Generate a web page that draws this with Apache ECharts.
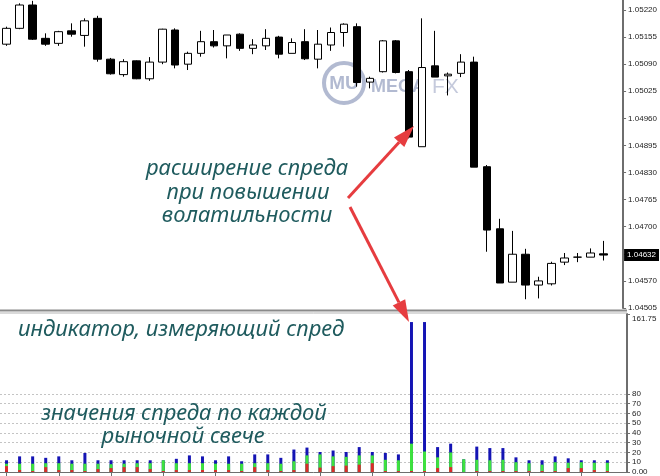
<!DOCTYPE html>
<html><head><meta charset="utf-8">
<script src="https://cdn.jsdelivr.net/npm/echarts@6/dist/echarts.min.js"></script>
<style>html,body{margin:0;padding:0;background:#fff}#c{width:660px;height:476px}</style>
</head><body><div id="c"></div>
<script>
// ---- data ----
const categories = ['1','2','3','4','5','6','7','8','9','10','11','12','13','14','15','16','17','18','19','20',
  '21','22','23','24','25','26','27','28','29','30','31','32','33','34','35','36','37','38','39','40',
  '41','42','43','44','45','46','47',''];
const opens = [1.05138,1.05176,1.05232,1.05152,1.05140,1.05170,1.05159,1.05200,1.05102,1.05065,
  1.05098,1.05055,1.05095,1.05172,1.05090,1.05116,1.05144,1.05134,1.05162,1.05128,
  1.05134,1.05155,1.05116,1.05144,1.05102,1.05136,1.05166,1.05180,1.05047,1.05072,
  1.05146,1.05072,1.04892,1.05086,1.05062,1.05068,1.05095,1.04844,1.04695,1.04567,
  1.04634,1.04560,1.04563,1.04615,1.04627,1.04627,1.04635];
const closes = [1.05176,1.05232,1.05150,1.05138,1.05168,1.05162,1.05194,1.05102,1.05067,1.05096,
  1.05055,1.05095,1.05174,1.05088,1.05116,1.05144,1.05134,1.05160,1.05128,1.05136,
  1.05152,1.05114,1.05142,1.05103,1.05138,1.05166,1.05186,1.05046,1.05056,1.05146,
  1.05070,1.04915,1.05082,1.05059,1.05066,1.05095,1.04843,1.04692,1.04565,1.04634,
  1.04560,1.04570,1.04612,1.04625,1.04627,1.04637,1.04632];
const lows = [1.05134,1.05174,1.05148,1.05134,1.05134,1.05156,1.05132,1.05096,1.05065,1.05060,
  1.05054,1.05050,1.05090,1.05080,1.05076,1.05108,1.05130,1.05104,1.05122,1.05114,
  1.05124,1.05104,1.05116,1.05100,1.05080,1.05122,1.05132,1.05036,1.05032,1.05070,
  1.05068,1.04912,1.04892,1.05059,1.05015,1.05059,1.04843,1.04640,1.04565,1.04567,
  1.04526,1.04528,1.04559,1.04608,1.04615,1.04627,1.04619];
const highs = [1.05180,1.05236,1.05242,1.05164,1.05170,1.05188,1.05200,1.05206,1.05105,1.05102,
  1.05099,1.05107,1.05175,1.05176,1.05120,1.05170,1.05172,1.05160,1.05164,1.05150,
  1.05174,1.05158,1.05152,1.05174,1.05172,1.05178,1.05188,1.05188,1.05060,1.05148,
  1.05148,1.05076,1.05200,1.05170,1.05070,1.05114,1.05108,1.04848,1.04719,1.04690,
  1.04647,1.04580,1.04616,1.04637,1.04637,1.04648,1.04666];
const spreadMax = [12,16,16,14.5,16,12,19.5,12,12,12, 12,12,12,13.5,17,16,12,16,11,18,
  18,14.5,23,25,20.5,22,20.5,25.5,20.5,19.5, 18,153.5,153.5,25.5,29,13,26,24.5,24.5,15,
  12,12,16,14,12,12,12];
const spreadAvg = [8.5,8.5,8.5,9,9,8.5,8.5,8.5,8,8.5, 9,9,12,9,9,9,8.5,8.5,8.5,9,
  9,8.5,11,17,18,16,15.5,17,17,12.5, 12,29,21,15,20,13,12.5,12,12.5,10,
  9,7.5,10,9.5,10,9.5,9.5];
const spreadMin = [6,2,1,5,2,2,1,3,4,5, 5,3,1,2,2,2,2,2,1,5,
  2,1,2,8.5,4.5,6,6.5,7.5,9,1, 1,1,1,4,5,0,1,1,1,1,
  1,1,1,4,4,2,1];
const lastPrice = 1.04632;
const priceMin = 1.04505, priceMax = 1.05244, priceStep = 0.00065;
const spreadTop = 161.75;
const spreadTicks = [0,10,20,30,40,50,60,70,80,161.75];
const spreadGridLevels = [10,20,30,40,50,60,70,80];

// ---- chart ----
const candles = opens.map((o, i) => [o, closes[i], lows[i], highs[i]]);
const chart = echarts.init(document.getElementById('c'), null, {renderer: 'canvas'});
const axisGray = '#6e6e6e';
const lblStyle = {color: '#222', fontSize: 8, fontFamily: 'Liberation Sans'};
const teal = '#1f5b5e';
const noteFont = {fontFamily: 'Noto Sans', fontStyle: 'italic', fontSize: 22};

function note(text, x, y, align) {
  return {type: 'text', z: 50, style: Object.assign({text, x, y, fill: teal,
    align: align || 'center', textAlign: align || 'center', verticalAlign: 'middle', textVerticalAlign: 'middle'}, noteFont)};
}
function arrow(x1, y1, x2, y2) {
  const dx = x2 - x1, dy = y2 - y1, L = Math.hypot(dx, dy), ux = dx / L, uy = dy / L;
  const hl = 22, hw = 7;
  const bx = x2 - ux * hl, by = y2 - uy * hl;
  return [
    {type: 'line', z: 60, shape: {x1, y1, x2: bx, y2: by}, style: {stroke: '#e63c3f', lineWidth: 3}},
    {type: 'polygon', z: 60, shape: {points: [[x2, y2], [bx - uy * hw, by + ux * hw], [bx + uy * hw, by - ux * hw]]},
      style: {fill: '#e63c3f'}}
  ];
}

const wm = 'rgba(115,130,172,0.55)';
const option = {
  animation: false,
  backgroundColor: '#fff',
  grid: [
    {left: 0, top: 0, width: 627, height: 308},
    {left: 0, top: 314, width: 627, height: 158}
  ],
  xAxis: [
    {type: 'category', gridIndex: 0, data: categories, boundaryGap: true,
      axisLine: {show: false}, axisTick: {show: false}, axisLabel: {show: false}, splitLine: {show: false}},
    {type: 'category', gridIndex: 1, data: categories, boundaryGap: true,
      axisLine: {show: true, lineStyle: {color: axisGray, width: 1}},
      axisTick: {show: true, interval: 3, alignWithLabel: true, length: 4, lineStyle: {color: axisGray}},
      axisLabel: {show: false}, splitLine: {show: false}}
  ],
  yAxis: [
    {type: 'value', gridIndex: 0, position: 'right', min: priceMin, max: priceMax, interval: priceStep,
      splitLine: {show: false},
      axisLine: {show: true, lineStyle: {color: axisGray, width: 2}},
      axisTick: {show: true, length: 3, lineStyle: {color: axisGray}},
      axisLabel: Object.assign({margin: 5, showMaxLabel: false, showMinLabel: true,
        formatter: v => Math.abs(v - priceMax) < 1e-7 ? '' : v.toFixed(5)}, lblStyle)},
    {type: 'value', gridIndex: 1, position: 'right', min: 0, max: spreadTop,
      splitLine: {show: false},
      axisLine: {show: true, lineStyle: {color: axisGray, width: 2}},
      axisTick: {show: true, length: 3, customValues: spreadTicks, lineStyle: {color: axisGray}},
      axisLabel: Object.assign({margin: 5, customValues: spreadTicks,
        formatter: v => v === 0 ? '0.00' : (v === spreadTop ? '{m|161.75}' : String(v)),
        rich: {m: {fontSize: 8, fontFamily: 'Liberation Sans', color: '#222', padding: [10, 0, 0, 0]}}}, lblStyle)}
  ],
  series: [
    {type: 'candlestick', xAxisIndex: 0, yAxisIndex: 0, data: candles, barWidth: 8,
      itemStyle: {color: '#ffffff', color0: '#000000', borderColor: '#000000', borderColor0: '#000000', borderWidth: 1}
    },
    {type: 'line', name: 'bid', xAxisIndex: 0, yAxisIndex: 0, data: [], showSymbol: false,
      markLine: {silent: true, symbol: 'none', animation: false, z: 10, precision: 5,
        lineStyle: {width: 1, color: 'rgba(0,0,0,0)', type: 'solid'},
        label: {show: true, position: 'end', distance: 1, formatter: lastPrice.toFixed(5),
          color: '#ffffff', backgroundColor: '#000000', padding: [2, 3, 2, 3], fontSize: 8, fontFamily: 'Liberation Sans'},
        emphasis: {disabled: true},
        data: [{yAxis: lastPrice}]}
    },
    {type: 'bar', name: 'max', xAxisIndex: 1, yAxisIndex: 1, data: spreadMax, barWidth: 3, barGap: '-100%',
      itemStyle: {color: '#1414b4'},
      markLine: {silent: true, z: 1, symbol: 'none', animation: false, label: {show: false},
        lineStyle: {type: [2, 2], color: '#c4c4c4', width: 1},
        data: spreadGridLevels.map(v => ({yAxis: v}))}
    },
    {type: 'bar', name: 'avg', xAxisIndex: 1, yAxisIndex: 1, data: spreadAvg, barWidth: 3, barGap: '-100%',
      itemStyle: {color: '#3ee23e'}},
    {type: 'bar', name: 'min', xAxisIndex: 1, yAxisIndex: 1, data: spreadMin, barWidth: 3, barGap: '-100%',
      itemStyle: {color: '#dc2a2a'}}
  ],
  graphic: [
    // separator between panels
    {type: 'line', z: 40, shape: {x1: 0, y1: 310.5, x2: 627, y2: 310.5}, style: {stroke: '#8a8a8a', lineWidth: 2}},
    {type: 'line', z: 40, shape: {x1: 0, y1: 313, x2: 627, y2: 313}, style: {stroke: '#b5b5b5', lineWidth: 1}},
    // watermark
    {type: 'circle', z: 0, shape: {cx: 344, cy: 83, r: 20}, style: {fill: 'none', stroke: wm, lineWidth: 4}},
    {type: 'text', z: 0, style: {text: 'MU', x: 344, y: 84, fill: wm, align: 'center', textAlign: 'center',
      verticalAlign: 'middle', textVerticalAlign: 'middle', fontSize: 19, fontWeight: 'bold', fontFamily: 'Liberation Sans'}},
    {type: 'text', z: 0, style: {text: 'MEGA', x: 371, y: 87, fill: wm, align: 'left', textAlign: 'left',
      verticalAlign: 'middle', textVerticalAlign: 'middle', fontSize: 18, fontWeight: 'bold', fontFamily: 'Liberation Sans'}},
    {type: 'text', z: 0, style: {text: 'FX', x: 432, y: 87, fill: 'rgba(140,150,185,0.5)', align: 'left', textAlign: 'left',
      verticalAlign: 'middle', textVerticalAlign: 'middle', fontSize: 21, fontFamily: 'Liberation Sans'}},
    // notes
    note('расширение спреда', 247, 169),
    note('при повышении', 248, 193),
    note('волатильности', 247, 216),
    note('индикатор, измеряющий спред', 18, 330, 'left'),
    note('значения спреда по каждой', 184, 414),
    note('рыночной свече', 183, 437)
  ].concat(arrow(348, 198, 414, 126), arrow(350, 207, 409, 322))
};
chart.setOption(option);
</script></body></html>
